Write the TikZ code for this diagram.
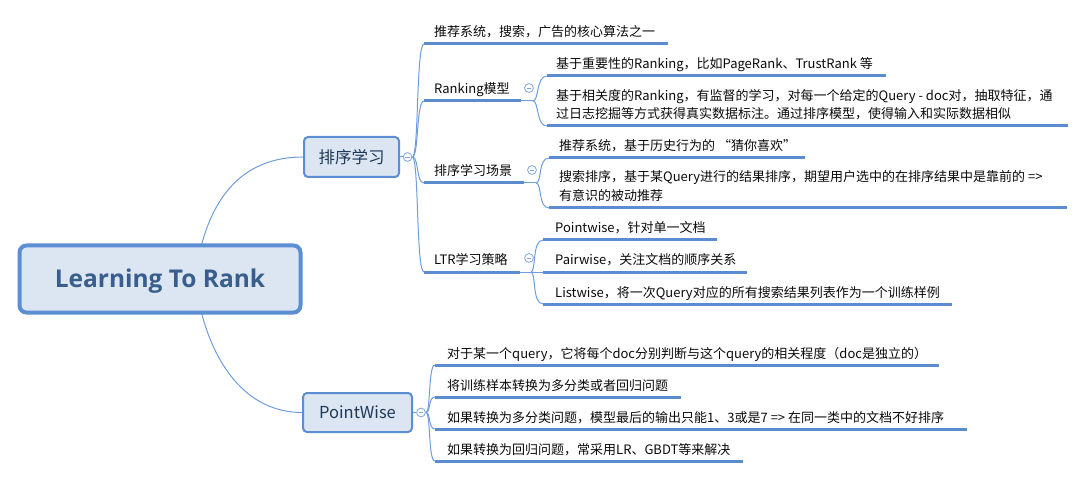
\documentclass[tikz,border=0pt]{standalone}
\usepackage{fontspec}
\setmainfont{Noto Sans CJK SC}
\newfontfamily\rootfont{Open Sans}
\usetikzlibrary{backgrounds}
\definecolor{boxfill}{HTML}{DCE6F2}
\definecolor{boxline}{HTML}{5B8ED2}
\definecolor{ulc}{HTML}{5B8CD0}
\definecolor{connc}{HTML}{6F9DDA}
\definecolor{roottext}{HTML}{3A5E8C}
\definecolor{subtext}{HTML}{1F3856}
\definecolor{leaftext}{HTML}{0A0A0A}
\definecolor{circc}{HTML}{7EA5D8}
\begin{document}
\begin{tikzpicture}[x=1pt,y=-1pt,
 rootbox/.style={draw=boxline, line width=4pt, fill=boxfill, rounded corners=7pt, minimum width=281pt, minimum height=67pt, font=\rootfont\bfseries\fontsize{24.5}{28}\selectfont, text=roottext, text height=17.5pt, text depth=0pt, inner sep=0pt},
 subbox/.style={draw=boxline, line width=2pt, fill=boxfill, rounded corners=4pt, minimum height=40pt, font=\fontsize{16.5}{20}\selectfont, text=subtext, inner sep=0pt},
 topic/.style={anchor=base west, inner sep=0pt, font=\fontsize{13}{16}\selectfont, text=leaftext},
 uline/.style={draw=ulc, line width=3pt},
 conn/.style={draw=connc, line width=1pt},
 collapse/.style={circle, draw=circc, line width=0.8pt, fill=white, minimum size=8.8pt, inner sep=0pt},
 minus/.style={draw=circc, line width=0.8pt},
]
\useasboundingbox (0,0) rectangle (1086,478);

% main boxes
\node[rootbox] (root) at (160,279) {Learning To Rank};
\node[subbox, minimum width=95pt] (s1) at (351.5,157) {排序学习};
\node[subbox, minimum width=109pt, minimum height=39pt] (s2) at (357.5,412.5) {PointWise};

% collapse markers
\node[collapse] (c1) at (407.5,157) {};
\node[collapse] (c2) at (421,412.5) {};
\node[collapse] (c3) at (529,88) {};
\node[collapse] (c4) at (532,170) {};
\node[collapse] (c5) at (529,258) {};
\foreach \c in {c1,c2,c3,c4,c5}{
  \draw[minus] ([xshift=-2.4pt]\c.center) -- ([xshift=2.4pt]\c.center);
}

% topic texts
\node[topic] (t1) at (434,37) {推荐系统，搜索，广告的核心算法之一};
\node[topic] (t2) at (434,94) {Ranking模型};
\node[topic] (t21) at (556,69) {基于重要性的Ranking，比如PageRank、TrustRank 等};
\node[topic] (t22a) at (556,101) {基于相关度的Ranking，有监督的学习，对每一个给定的Query - doc对，抽取特征，通};
\node[topic] (t22b) at (556,119) {过日志挖掘等方式获得真实数据标注。通过排序模型，使得输入和实际数据相似};
\node[topic] (t3) at (434,176) {排序学习场景};
\node[topic] (t31) at (559,151) {推荐系统，基于历史行为的 “猜你喜欢”};
\node[topic] (t32a) at (559,182) {搜索排序，基于某Query进行的结果排序，期望用户选中的在排序结果中是靠前的 =>};
\node[topic] (t32b) at (559,201) {有意识的被动推荐};
\node[topic] (t4) at (434,265) {LTR学习策略};
\node[topic] (t41) at (555,233) {Pointwise，针对单一文档};
\node[topic] (t42) at (555,265) {Pairwise，关注文档的顺序关系};
\node[topic] (t43) at (555,297) {Listwise，将一次Query对应的所有搜索结果列表作为一个训练样例};
\node[topic] (p1) at (447,358) {对于某一个query，它将每个doc分别判断与这个query的相关程度（doc是独立的）};
\node[topic] (p2) at (447,390) {将训练样本转换为多分类或者回归问题};
\node[topic] (p3) at (447,422) {如果转换为多分类问题，模型最后的输出只能1、3或是7 => 在同一类中的文档不好排序};
\node[topic] (p4) at (447,454) {如果转换为回归问题，常采用LR、GBDT等来解决};

% underlines
\draw[uline] (424,44) coordinate (u1) -- (668,44);
\draw[uline] (424,101) coordinate (u2) -- (521,101) coordinate (u2e);
\draw[uline] (547,76) coordinate (u21) -- (886,76);
\draw[uline] (547,126) coordinate (u22) -- (1068,126);
\draw[uline] (424,183) coordinate (u3) -- (524,183) coordinate (u3e);
\draw[uline] (549,158) coordinate (u31) -- (805,158);
\draw[uline] (549,208) coordinate (u32) -- (1067,208);
\draw[uline] (424,272) coordinate (u4) -- (520,272) coordinate (u4e);
\draw[uline] (543,240) coordinate (u41) -- (717,240);
\draw[uline] (543,272) coordinate (u42) -- (747,272);
\draw[uline] (543,304) coordinate (u43) -- (952,304);
\draw[uline] (435,365) coordinate (v1) -- (939,365);
\draw[uline] (435,397) coordinate (v2) -- (681,397);
\draw[uline] (435,429) coordinate (v3) -- (967,429);
\draw[uline] (435,461) coordinate (v4) -- (743,461);

\begin{pgfonlayer}{background}
  % root to main topics
  \coordinate (rt) at (201,247);
  \coordinate (rb) at (201,311);
  \draw[conn] (rt) .. controls (216,188) and (250,157) .. (s1.west);
  \draw[conn] (rb) .. controls (216,370) and (250,412.5) .. (s2.west);
  % 排序学习 trunk
  \draw[conn] (s1.east) -- (c1.west);
  \draw[conn] (c1.east) .. controls (419,157) and (416,44) .. (u1);
  \draw[conn] (c1.east) .. controls (419,157) and (416,101) .. (u2);
  \draw[conn] (c1.east) .. controls (419,157) and (416,183) .. (u3);
  \draw[conn] (c1.east) .. controls (419,157) and (416,272) .. (u4);
  % Ranking模型 branch
  \draw[conn] (u2e) -- (533,101) coordinate (b2);
  \draw[conn] (b2) .. controls (539,101) and (536,76) .. (u21);
  \draw[conn] (b2) .. controls (539,101) and (536,126) .. (u22);
  % 排序学习场景 branch
  \draw[conn] (u3e) -- (536,183) coordinate (b3);
  \draw[conn] (b3) .. controls (542,183) and (538,158) .. (u31);
  \draw[conn] (b3) .. controls (542,183) and (538,208) .. (u32);
  % LTR branch
  \draw[conn] (u4e) -- (531,272) coordinate (b4);
  \draw[conn] (b4) .. controls (536,272) and (532,240) .. (u41);
  \draw[conn] (b4) -- (u42);
  \draw[conn] (b4) .. controls (536,272) and (532,304) .. (u43);
  % PointWise trunk
  \draw[conn] (s2.east) -- (c2.west);
  \draw[conn] (c2.east) .. controls (431,412.5) and (428,365) .. (v1);
  \draw[conn] (c2.east) .. controls (431,412.5) and (428,397) .. (v2);
  \draw[conn] (c2.east) .. controls (431,412.5) and (428,429) .. (v3);
  \draw[conn] (c2.east) .. controls (431,412.5) and (428,461) .. (v4);
\end{pgfonlayer}
\end{tikzpicture}
\end{document}
